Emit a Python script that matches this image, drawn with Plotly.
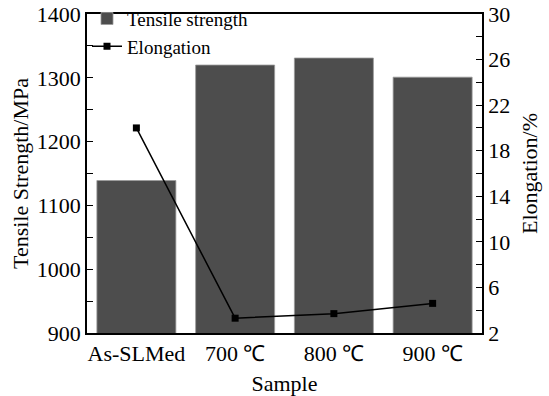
import plotly.graph_objects as go

categories = ["As-SLMed", "700 ℃", "800 ℃", "900 ℃"]
tensile_strength = [1139, 1320, 1331, 1301]
elongation = [20.0, 3.3, 3.7, 4.6]

FONT = "Liberation Serif"

fig = go.Figure()
fig.add_trace(go.Bar(
    x=categories, y=tensile_strength, name="Tensile strength",
    marker=dict(color="#4d4d4d", line=dict(color="#9a9a9a", width=0.8)),
    yaxis="y",
))
fig.add_trace(go.Scatter(
    x=categories, y=elongation, name="Elongation", yaxis="y2",
    mode="lines+markers",
    line=dict(color="black", width=1.5),
    marker=dict(symbol="square", size=7, color="black"),
))

tick_common = dict(ticks="inside", ticklen=6, tickwidth=1.3, tickcolor="black")

fig.update_layout(
    width=549, height=396,
    margin=dict(l=87, r=67, t=14, b=63, autoexpand=False),
    paper_bgcolor="white", plot_bgcolor="white",
    font=dict(family=FONT, size=22, color="black"),
    bargap=0.2,
    showlegend=True,
    legend=dict(x=0.0, y=1.045, xanchor="left", yanchor="top",
                bgcolor="rgba(0,0,0,0)", font=dict(family=FONT, size=19),
                itemwidth=30, tracegroupgap=0),
    xaxis=dict(
        title=dict(text="Sample", font=dict(family=FONT, size=22), standoff=16),
        range=[-0.5, 3.5], automargin=False,
        showline=True, linecolor="black", linewidth=1.6, mirror=True,
        ticks="", showgrid=False, tickfont=dict(family=FONT, size=22),
    ),
    yaxis=dict(
        title=dict(text="Tensile Strength/MPa", font=dict(family=FONT, size=22), standoff=2),
        range=[900, 1400], dtick=100, tickformat="d", automargin=False,
        showline=True, linecolor="black", linewidth=1.6,
        minor=dict(dtick=50, **tick_common),
        showgrid=False, zeroline=False, tickfont=dict(family=FONT, size=22),
        **tick_common,
    ),
    yaxis2=dict(
        title=dict(text="Elongation/%", font=dict(family=FONT, size=22), standoff=12),
        overlaying="y", side="right", automargin=False,
        range=[2, 30], tick0=2, dtick=4,
        showline=True, linecolor="black", linewidth=1.6,
        minor=dict(dtick=2, **tick_common),
        showgrid=False, zeroline=False, tickfont=dict(family=FONT, size=22),
        **tick_common,
    ),
)

fig.write_html("out.html")
